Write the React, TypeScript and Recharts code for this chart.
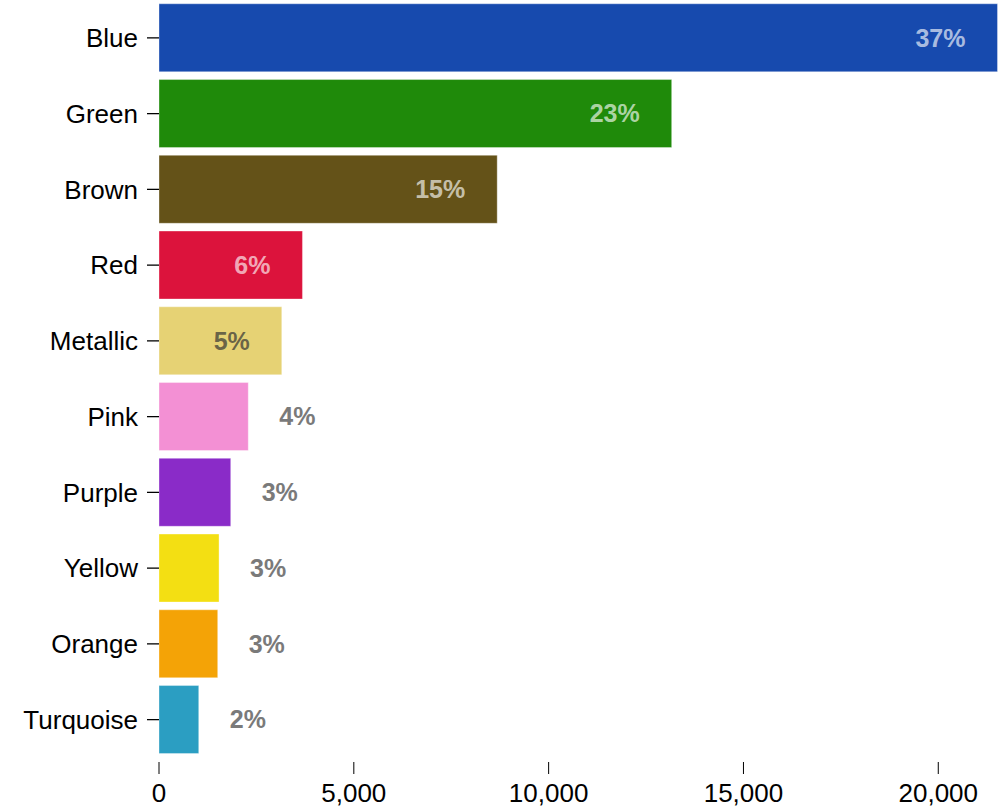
import { type JSX } from 'react';
import { BarChart, Bar, XAxis, YAxis, Cell, LabelList } from 'recharts';

const categories = ['Blue', 'Green', 'Brown', 'Red', 'Metallic', 'Pink', 'Purple', 'Yellow', 'Orange', 'Turquoise'];
const counts = [21520, 13158, 8680, 3682, 3151, 2291, 1841, 1541, 1507, 1020];
const shareLabels = ['37%', '23%', '15%', '6%', '5%', '4%', '3%', '3%', '3%', '2%'];
const xTicks = [0, 5000, 10000, 15000, 20000];

const colors = ['#174aae', '#1f8a0a', '#645218', '#dc133c', '#e6d274', '#f390d4', '#8a2bc8', '#f3df13', '#f4a306', '#2b9ec2'];

const FONT = '"Liberation Sans", Arial, Helvetica, sans-serif';

const chartData = categories.map((name, i) => ({
  name,
  value: counts[i],
  share: shareLabels[i],
  color: colors[i],
}));

function isLight(hex: string): boolean {
  const r = parseInt(hex.slice(1, 3), 16);
  const g = parseInt(hex.slice(3, 5), 16);
  const b = parseInt(hex.slice(5, 7), 16);
  return 0.299 * r + 0.587 * g + 0.114 * b > 170;
}

function ShareLabel(props: any): JSX.Element | null {
  const { x, y, width, height, index } = props;
  if (index == null) return null;
  const d = chartData[index];
  const cy = y + height / 2;
  const inside = width > 100;
  if (inside) {
    const light = isLight(d.color);
    return (
      <text
        x={x + width - 32}
        y={cy}
        dy="0.355em"
        textAnchor="end"
        fontFamily={FONT}
        fontSize={25}
        fontWeight="bold"
        fill={light ? '#333' : '#fff'}
        fillOpacity={light ? 0.7 : 0.65}
      >
        {d.share}
      </text>
    );
  }
  return (
    <text
      x={x + width + 31}
      y={cy}
      dy="0.355em"
      textAnchor="start"
      fontFamily={FONT}
      fontSize={25}
      fontWeight="bold"
      fill="#7a7a7a"
    >
      {d.share}
    </text>
  );
}

function XTick(props: any): JSX.Element {
  const { x, y, payload } = props;
  return (
    <g>
      <line x1={x} x2={x} y1={y + 4.5} y2={y + 16.5} stroke="#000" strokeWidth={1} />
      <text x={x} y={y + 44} textAnchor="middle" fontFamily={FONT} fontSize={26} fill="#000">
        {Number(payload.value).toLocaleString('en-US')}
      </text>
    </g>
  );
}

export default function App(): JSX.Element {
  return (
    <div style={{ position: 'absolute', left: 0, top: 0, width: 998, height: 806, background: '#fff' }}>
      <BarChart
        width={998}
        height={806}
        data={chartData}
        layout="vertical"
        margin={{ top: 0, right: 0.5, left: 0, bottom: 0 }}
        barCategoryGap="5%"
      >
        <XAxis
          type="number"
          domain={[0, 'dataMax']}
          ticks={xTicks}
          axisLine={false}
          tickLine={false}
          tickSize={0}
          tickMargin={0}
          height={48.5}
          tick={<XTick />}
          interval={0}
        />
        <YAxis
          type="category"
          dataKey="name"
          width={159}
          axisLine={false}
          tickSize={12}
          tickMargin={9}
          tickLine={{ stroke: '#000', strokeWidth: 1.3 }}
          tick={{ fill: '#000', fontSize: 26, fontFamily: FONT }}
          interval={0}
        />
        <Bar dataKey="value" isAnimationActive={false} stroke="#fff" strokeOpacity={0.35} strokeWidth={1}>
          {chartData.map((d) => (
            <Cell key={d.name} fill={d.color} />
          ))}
          <LabelList dataKey="share" content={<ShareLabel />} />
        </Bar>
      </BarChart>
    </div>
  );
}
